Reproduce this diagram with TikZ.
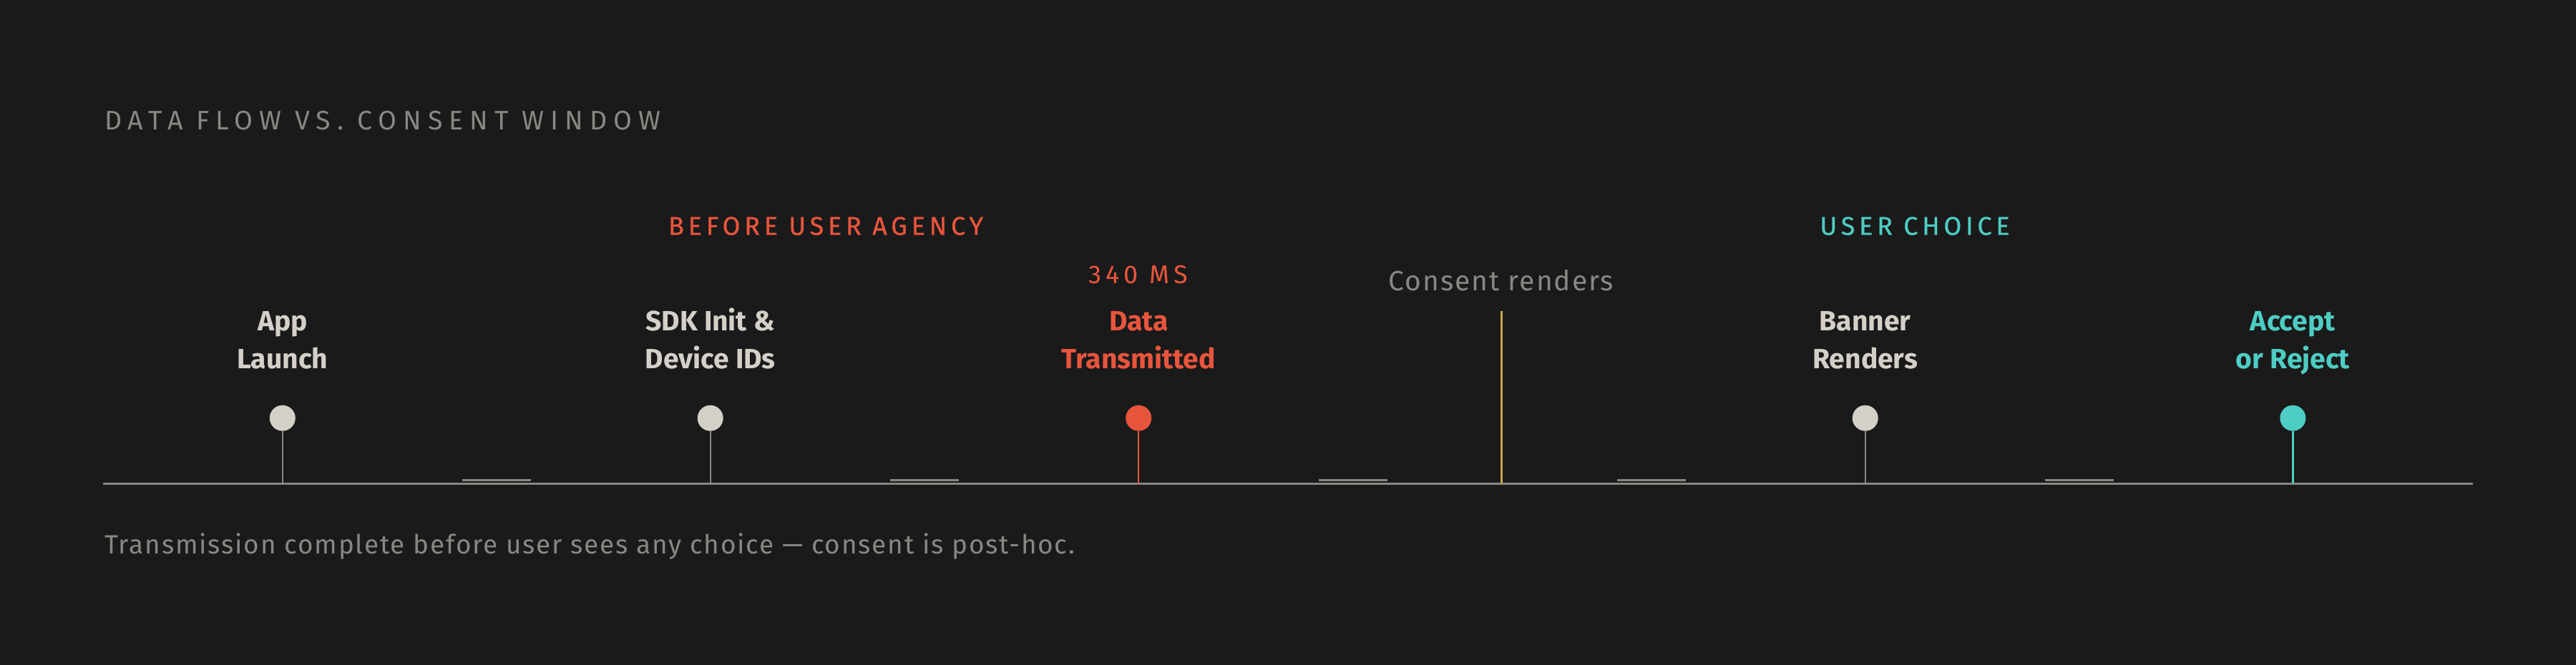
\documentclass[tikz,border=0pt]{standalone}
\usepackage{fontspec}
\setmainfont{Fira Sans}
\newfontfamily\widefont[LetterSpace=24]{Fira Sans}
\newfontfamily\capfont[LetterSpace=17]{Fira Sans}
\newfontfamily\zonefont[LetterSpace=16,FakeBold=0.6]{Fira Sans}
\newfontfamily\airfont[LetterSpace=5]{Fira Sans}
\usepackage{tikz}
\usetikzlibrary{positioning,calc}
\definecolor{bg}{HTML}{1A1A1A}
\definecolor{chalk}{HTML}{D4D0C8}
\definecolor{mute}{HTML}{8A8782}
\definecolor{ember}{HTML}{E8553D}
\definecolor{teal}{HTML}{4ECDC4}
\definecolor{gold}{HTML}{C9A84C}

\begin{document}
\begin{tikzpicture}[x=1pt,y=-1pt,
  dot/.style={circle,inner sep=0pt,minimum size=12pt},
  lbl/.style={anchor=base,align=center,inner sep=0pt,font=\bfseries\fontsize{13}{17.4}\selectfont},
  zone/.style={anchor=base,inner sep=0pt,font=\zonefont\fontsize{12}{14}\selectfont},
  stem/.style={line width=0.8pt},
  tick/.style={mute,line width=1.2pt}]
\fill[bg] (0,0) rectangle (1200,310);
\useasboundingbox (0,0) rectangle (1200,310);
\node[anchor=base west,inner sep=0pt,mute,font=\widefont\fontsize{12.5}{14}\selectfont] (title) at (48.5,60.4) {DATA FLOW VS. CONSENT WINDOW};
\node[zone,ember] (before) at (384.7,109.5) {BEFORE USER AGENCY};
\node[zone,teal] (choice) at (892,109.5) {USER CHOICE};
% axis
\coordinate (axisL) at (48,225.4);
\coordinate (axisR) at (1152,225.4);
\draw[mute,line width=1pt] (axisL) -- (axisR);
\draw[tick] (215.4,223.8) -- ++(32,0);
\draw[tick] (414.7,223.8) -- ++(32,0);
\draw[tick] (614.2,223.8) -- ++(32,0);
\draw[tick] (753.2,223.8) -- ++(32,0);
\draw[tick] (952.5,223.8) -- ++(32,0);
% events
\node[dot,fill=chalk] (appdot) at (131.6,194.9) {};
\node[lbl,chalk] (applbl) at (131.6,171.7) {App\\Launch};
\coordinate (appfoot) at (131.6,225.4);
\draw[stem,mute] (appdot) -- (appfoot);
\node[dot,fill=chalk] (sdkdot) at (330.9,194.9) {};
\node[lbl,chalk] (sdklbl) at (330.9,171.7) {SDK Init \&\\Device IDs};
\coordinate (sdkfoot) at (330.9,225.4);
\draw[stem,mute] (sdkdot) -- (sdkfoot);
\node[dot,fill=ember] (datadot) at (530.4,194.9) {};
\node[lbl,ember] (datalbl) at (530.4,171.7) {Data\\Transmitted};
\node[anchor=base,inner sep=0pt,ember,font=\capfont\fontsize{12}{14}\selectfont] (delay) at (530.2,132.2) {340 MS};
\coordinate (datafoot) at (530.4,225.4);
\draw[stem,ember] (datadot) -- (datafoot);
\node[anchor=base,inner sep=0pt,mute,font=\airfont\fontsize{13}{14}\selectfont] (consent) at (699.3,135.6) {Consent renders};
\coordinate (consenttop) at (699.5,145);
\coordinate (consentfoot) at (699.5,225.4);
\draw[gold,line width=1pt] (consenttop) -- (consentfoot);
\node[dot,fill=chalk] (bannerdot) at (868.9,194.9) {};
\node[lbl,chalk] (bannerlbl) at (868.9,171.7) {Banner\\Renders};
\coordinate (bannerfoot) at (868.9,225.4);
\draw[stem,mute] (bannerdot) -- (bannerfoot);
\node[dot,fill=teal] (acceptdot) at (1068.1,194.9) {};
\node[lbl,teal] (acceptlbl) at (1068.1,171.7) {Accept\\or Reject};
\coordinate (acceptfoot) at (1068.1,225.4);
\draw[stem,teal] (acceptdot) -- (acceptfoot);
% footnote
\node[anchor=base west,inner sep=0pt,mute,font=\airfont\fontsize{12.3}{14}\selectfont] (note) at (48.5,258.3) {Transmission complete before user sees any choice — consent is post-hoc.};
\end{tikzpicture}
\end{document}
